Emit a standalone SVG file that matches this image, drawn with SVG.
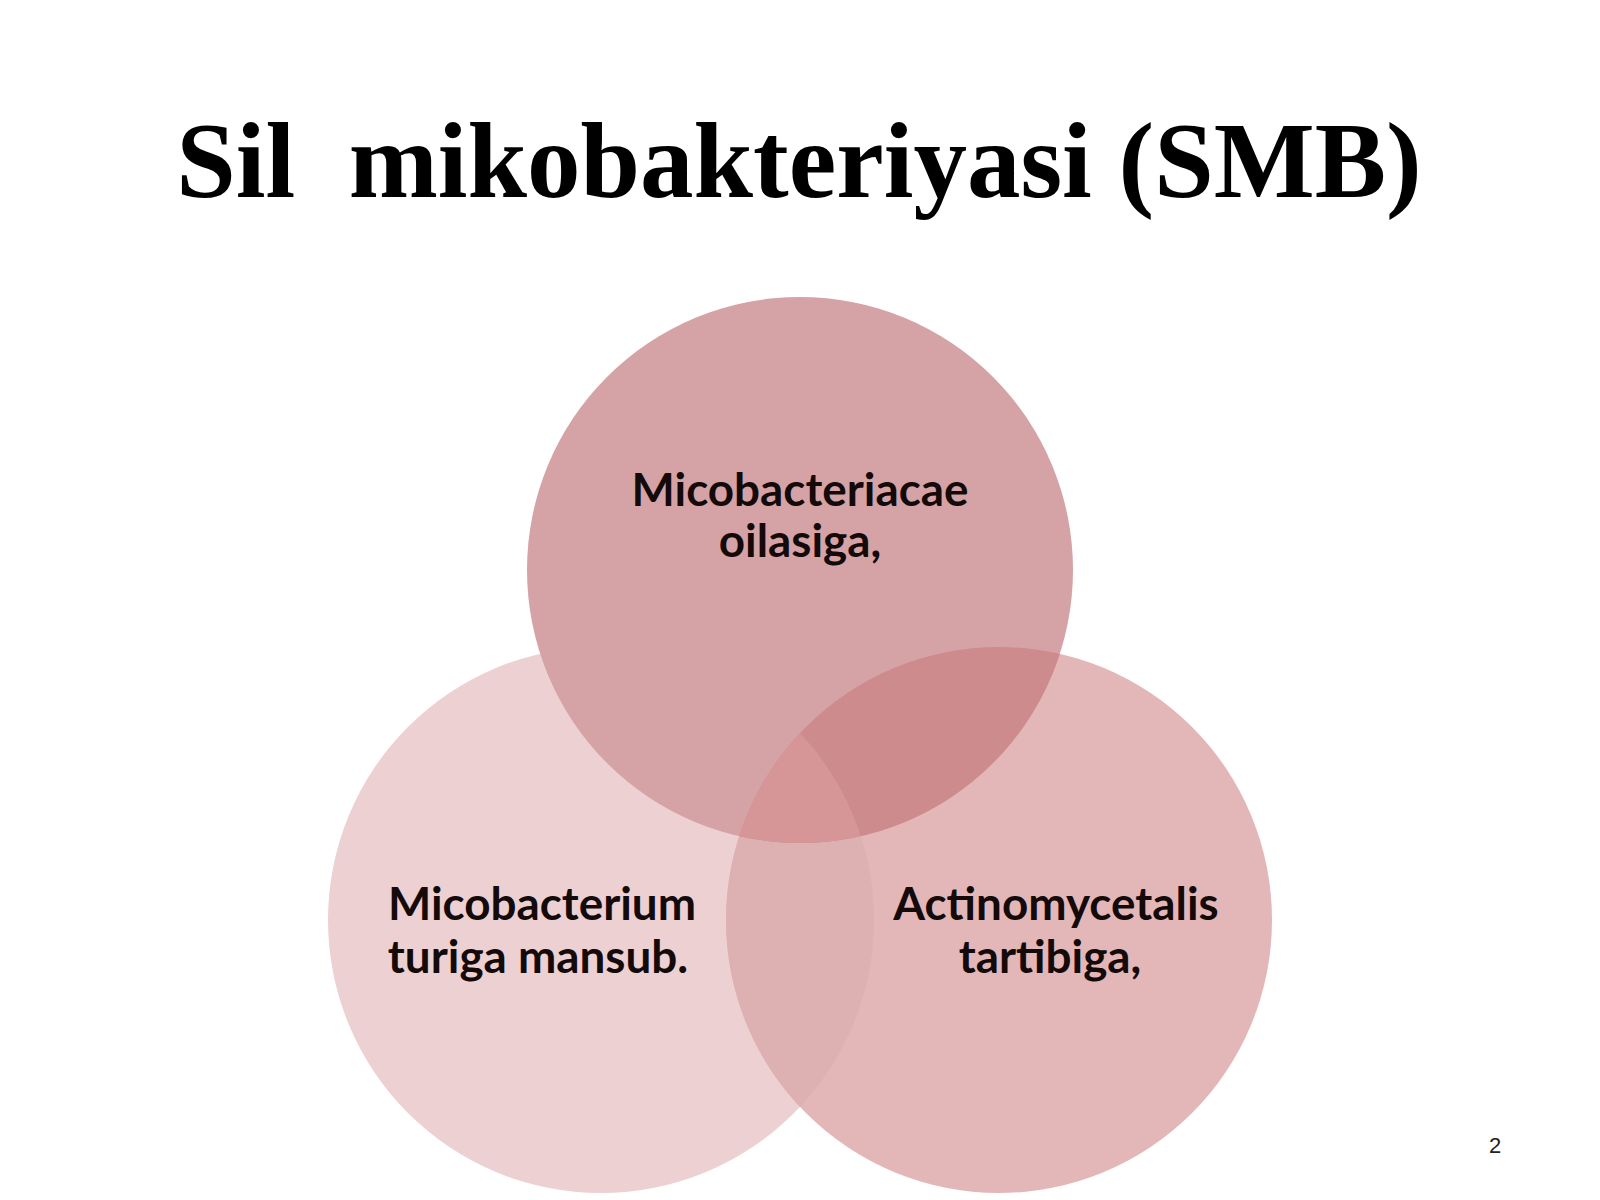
<svg xmlns="http://www.w3.org/2000/svg" width="1600" height="1200" viewBox="0 0 1600 1200">
  <style>
    .title { font-family: "Liberation Serif", "Times New Roman", serif; font-weight: bold; font-size: 107px; fill: #000; }
    .label { font-family: Lato, "Open Sans", "Liberation Sans", sans-serif; font-weight: bold; font-size: 45.8px; fill: #140a0a; text-anchor: middle; }
    .pg { font-family: "Liberation Sans", Arial, sans-serif; font-size: 22px; fill: #222; }
  </style>
  <defs>
    <clipPath id="cT"><circle cx="800" cy="570" r="273"/></clipPath>
    <clipPath id="cL"><circle cx="601" cy="920" r="273"/></clipPath>
    <clipPath id="cR"><circle cx="999" cy="920" r="273"/></clipPath>
  </defs>
  <rect width="1600" height="1200" fill="#ffffff"/>
  <text class="title" x="799" y="197" text-anchor="middle" xml:space="preserve">Sil  mikobakteriyasi (SMB)</text>

  <g id="node-left">
    <circle cx="601" cy="920" r="273" fill="#ecd0d2"/>
    <text class="label" x="542" y="920">Micobacterium</text>
    <text class="label" x="538" y="973">turiga mansub.</text>
  </g>
  <g id="node-right">
    <circle cx="999" cy="920" r="273" fill="#e3b7b8"/>
    <text class="label" x="1056" y="920">Actinomycetalis</text>
    <text class="label" x="1050" y="973">tartibiga,</text>
  </g>
  <g id="node-top">
    <circle cx="800" cy="570" r="273" fill="#d5a3a5"/>
    <text class="label" x="800" y="506">Micobacteriacae</text>
    <text class="label" x="800" y="557">oilasiga,</text>
  </g>

  <g id="overlaps">
    <circle cx="601" cy="920" r="273" fill="#ddb0b2" clip-path="url(#cR)"/>
    <g clip-path="url(#cT)">
      <circle cx="999" cy="920" r="273" fill="#cd8b8d"/>
      <g clip-path="url(#cR)">
        <circle cx="601" cy="920" r="273" fill="#d69597"/>
      </g>
    </g>
  </g>

  <g id="connectors"></g>

  <text class="pg" x="1489" y="1153">2</text>
</svg>
